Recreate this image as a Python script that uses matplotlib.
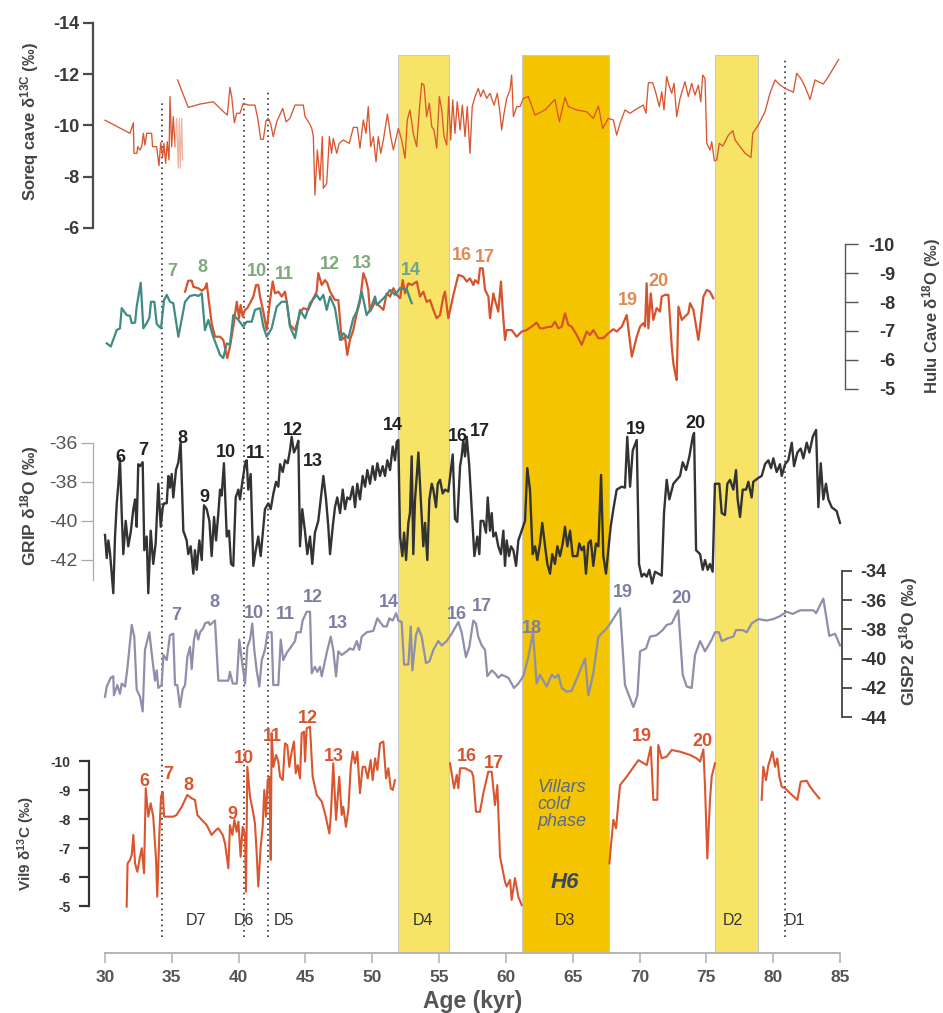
import numpy as np
import matplotlib
matplotlib.use("Agg")
import matplotlib.pyplot as plt
from matplotlib.transforms import blended_transform_factory

plt.rcParams['font.family'] = ['Liberation Sans', 'DejaVu Sans']
plt.rcParams['mathtext.fontset'] = 'custom'
plt.rcParams['mathtext.rm'] = 'Liberation Sans'
plt.rcParams['mathtext.bf'] = 'Liberation Sans:bold'
plt.rcParams['mathtext.default'] = 'regular'

NAN = np.nan

# ---------------- Soreq cave d13C ----------------
soreq_age = [30.0, 31.87, 32.07, 32.12, 32.17, 32.39, 32.45, 32.62, 32.75, 32.87, 32.99, 33.12,
             33.49, 33.56, 33.86, 34.04, 34.17, 34.32, 34.41, 34.54, 34.66, 34.79, 34.86, 34.99,
             35.11, 35.24, NAN,
             35.43, 36.23, 37.11, 38.1, 38.73, 39.15, 39.35, 39.48, 39.68, 39.85, 40.1, 40.35,
             40.72, 41.22, 41.43, 41.65, 41.85, 42.05, 42.22, 42.4, 42.59, 42.85, 43.3, 43.55,
             43.84, 44.22, 44.84, 44.97, 45.29, 45.47, 45.59, 45.71, 45.89, 46.09, 46.26, 46.34,
             46.59, 46.79, 46.96, 47.08, 47.34, 47.53, 47.83, 48.28, 48.58, 48.88, 49.08, 49.33,
             49.53, 49.7, 49.88, 50.08, 50.28, 50.45, 50.63, 50.83, 51.13, 51.38, 51.58, 51.95,
             52.2, 52.45, 52.62, 52.82, 53.07, 53.32, 53.52, 53.7, 53.87, 54.07, 54.27, 54.45,
             54.62, 54.82, 55.02, 55.2, 55.37, 55.57, 55.72, 55.87, 56.02, 56.19, 56.36, 56.57,
             56.74, 56.94, 57.11, 57.31, 57.48, 57.69, 57.93, 58.11, 58.31, 58.56, 58.81, 59.11,
             59.36, 59.56, 59.68, 59.86, 60.06, 60.31, 60.43, 60.56, 60.81, 61.06, 61.3, 61.68,
             62.18, 62.93, 63.67, 64.0, 64.42, 64.67, 65.3, 66.04, 66.54, 66.92, 67.24, 67.66,
             68.04, 68.29, 68.54, 68.91, 69.29, 69.66, 70.28, 70.48, 70.66, 70.98, 71.16, 71.48,
             71.66, 71.83, 72.03, 72.23, 72.41, 72.58, 72.78, 73.03, 73.4, 73.65, 73.9, 74.15,
             74.4, 74.58, 74.73, 74.9, 75.03, 75.27, 75.4, 75.6, 75.78, 75.97, 76.23, 76.65,
             76.98, 77.15, 77.52, 77.9, 78.34, 78.47, 78.89, 79.39, 79.76, 80.14, 80.51, 80.89,
             81.51, 81.76, 82.06, 82.38, 82.76, 83.13, 83.38, 83.75, 84.13, 84.9]
soreq_val = [-10.2, -9.69, -10.01, -10.1, -8.91, -8.91, -9.17, -9.04, -9.17, -9.69, -9.23, -9.69,
             -9.69, -9.17, -9.17, -8.43, -9.32, -8.78, -9.3, -8.52, -9.36, -8.65, -11.12, -9.17,
             -10.34, -9.17, NAN,
             -11.77, -10.7, -10.83, -10.92, -10.6, -10.4, -11.48, -11.12, -10.1, -10.47, -10.47, -10.86,
             -10.79, -10.79, -10.27, -9.46, -9.46, -10.18, -10.27, -10.05, -9.56, -10.14, -10.66, -10.14,
             -10.27, -10.79, -10.79, -10.34, -10.08, -9.88, -9.56, -7.29, -9.04, -7.87, -9.56, -7.55,
             -7.74, -9.56, -8.91, -9.49, -8.91, -9.3, -9.43, -9.3, -9.92, -9.92, -9.11, -10.21,
             -9.69, -10.73, -9.17, -9.56, -8.58, -9.56, -8.91, -9.43, -10.44, -9.56, -9.04, -9.88,
             -9.43, -8.72, -10.21, -10.6, -9.69, -9.17, -10.6, -11.64, -11.57, -10.34, -10.86, -9.95,
             -9.82, -9.11, -11.12, -10.6, -9.56, -9.23, -11.12, -9.43, -10.99, -9.69, -10.92, -9.82,
             -10.79, -9.56, -10.73, -8.91, -10.73, -11.12, -11.44, -11.12, -11.38, -11.05, -11.25, -10.79,
             -11.25, -10.47, -9.82, -10.47, -11.05, -11.38, -11.96, -10.34, -10.73, -10.73, -11.05, -11.12,
             -10.4, -10.6, -11.01, -10.14, -11.09, -10.73, -10.6, -10.53, -10.27, -10.75, -9.88, -10.27,
             -10.21, -9.62, -10.08, -10.6, -10.47, -10.6, -10.79, -10.47, -11.66, -11.66, -11.38, -10.73,
             -11.31, -10.6, -11.9, -11.51, -11.25, -11.64, -10.34, -11.05, -11.7, -11.12, -11.64, -11.18,
             -11.57, -10.92, -11.96, -11.83, -9.3, -9.04, -9.36, -8.62, -8.65, -9.3, -9.19, -9.62,
             -9.79, -9.43, -9.17, -8.91, -8.75, -9.69, -10.01, -10.53, -11.25, -11.77, -11.57, -11.44,
             -11.29, -12.03, -11.83, -11.51, -11.01, -11.77, -11.7, -11.61, -11.9, -12.57]
# lightly drawn duplicate measurements near 35.3-35.8 kyr
soreq_faint_age = [35.24, 35.36, 35.48, 35.56, 35.63, 35.74, 35.81]
soreq_faint_val = [-9.17, -10.27, -8.33, -10.27, -8.33, -10.27, -8.65]

# ---------------- Hulu Cave d18O ----------------
hulu_teal_age = [30.13, 30.43, 30.88, 31.12, 31.25, 31.62, 31.87, 32.0, 32.25, 32.37, 32.67, 32.87,
                 33.12, 33.32, 33.44, 33.69, 33.87, 34.19, 34.42, 34.62, 34.86, 35.11, 35.49, 35.99,
                 36.36, 36.73, 36.98, 37.24, 37.48, 37.73, 38.1, 38.61, 38.85, 39.11, 39.35, 39.6,
                 39.98, 40.35, 40.6, 40.98, 41.22, 41.6, 41.85, 42.1, 42.47, 42.85, 43.22, 43.6,
                 43.84, 44.22, 44.59, 44.97, 45.34, 45.84, 46.09, 46.34, 46.59, 46.84, 47.21, 47.59,
                 47.84, 48.21, 48.58, 48.84, 49.21, 49.58, 49.83, 50.21, 50.33, 50.71, 51.08, 51.33,
                 51.7, 52.08, 52.58, 52.95]
hulu_teal_val = [-6.57, -6.46, -7.03, -7.09, -7.79, -7.55, -7.52, -7.27, -7.29, -7.84, -8.67, -7.09,
                 -7.27, -7.45, -8.01, -8.01, -7.24, -7.09, -8.07, -8.25, -8.01, -7.96, -6.8, -8.01,
                 -8.21, -8.25, -8.21, -8.3, -7.03, -7.38, -6.8, -6.17, -6.06, -6.57, -6.52, -7.55,
                 -7.38, -7.15, -7.32, -7.32, -7.73, -7.79, -7.15, -6.8, -7.09, -7.84, -8.01, -8.01,
                 -7.15, -6.75, -7.73, -7.44, -7.96, -8.25, -8.07, -8.25, -7.73, -8.19, -7.79, -6.69,
                 -6.92, -6.75, -7.44, -7.67, -8.36, -7.55, -7.73, -8.19, -7.9, -8.07, -8.25, -8.42,
                 -8.25, -8.48, -8.44, -7.96]

hulu_orange_age = [35.99, 36.23, 36.49, 36.61, 36.98, 37.24, 37.48, 37.61, 37.73, 37.98, 38.23, 38.61,
                   38.85, 39.15, 39.35, 39.6, 39.86, 40.03, 40.15, 40.3, 40.48, 40.65, 40.85, 41.1,
                   41.3, 41.47, 41.6, 41.85, 42.1, 42.35, 42.55, 42.72, 42.97, 43.22, 43.47, 43.6,
                   43.84, 44.22, 44.59, 44.84, 45.21, 45.59, 45.84, 45.96, 46.22, 46.46, 46.64, 46.84,
                   47.21, 47.46, 47.71, 47.96, 48.13, 48.33, 48.58, 48.84, 49.08, 49.33, 49.53, 49.7,
                   49.83, 50.03, 50.21, 50.58, 50.83, 51.08, 51.33, 51.58, 51.83, 52.08, 52.28, 52.45,
                   52.7, 52.95, 53.33, 53.57, 53.82, 54.07, 54.32, 54.57, 54.82, 55.07, 55.32, 55.44,
                   55.69, 56.07, 56.44, 56.81, 57.07, 57.31, 57.56, 57.69, 57.93, 58.06, 58.26, 58.44,
                   58.69, 58.81, 59.06, 59.18, 59.43, 59.63, 59.76, 59.93, 60.06, 60.43, 60.81, 61.18,
                   61.55, 61.93, 62.3, 62.55, 62.8, 63.05, 63.43, 63.67, 63.92, 64.18, 64.42, 64.67,
                   64.92, 65.3, 65.67, 66.05, 66.29, 66.54, 66.92, 67.29, 67.66, 68.04, 68.29, 68.67,
                   69.04, 69.42, 69.79, 70.04, 70.28, 70.41, 70.53, 70.66, 70.84, 71.03, 71.28, 71.53,
                   71.66, 71.9, 72.16, 72.28, 72.41, 72.53, 72.66, 72.78, 72.91, 73.16, 73.4, 73.65,
                   73.78, 74.03, 74.28, 74.4, 74.53, 74.78, 75.03, 75.27, 75.52]
hulu_orange_val = [-8.36, -8.74, -8.74, -8.53, -8.48, -8.39, -8.48, -8.65, -8.19, -7.27, -6.8, -6.8,
                   -6.69, -6.06, -6.46, -7.15, -8.01, -7.44, -7.9, -7.5, -7.73, -7.79, -7.96, -8.19,
                   -8.59, -8.59, -8.19, -7.67, -7.03, -8.07, -8.71, -8.3, -8.36, -8.19, -8.36, -8.01,
                   -7.21, -7.03, -7.61, -7.79, -7.73, -8.13, -8.36, -9.0, -8.59, -8.76, -8.65, -8.36,
                   -8.07, -8.07, -6.69, -6.8, -6.17, -6.69, -7.03, -7.61, -8.01, -9.0, -8.76, -8.42,
                   -7.67, -7.84, -8.01, -7.84, -7.73, -8.3, -8.19, -8.48, -8.25, -8.13, -8.76, -8.3,
                   -8.65, -8.59, -8.71, -8.19, -8.36, -8.01, -8.07, -7.73, -7.44, -7.55, -8.19, -8.36,
                   -7.44, -8.25, -8.94, -8.88, -8.71, -8.82, -8.59, -8.76, -8.65, -9.17, -9.17, -8.42,
                   -8.19, -7.44, -8.3, -8.07, -7.67, -8.71, -7.73, -6.69, -7.03, -7.03, -6.8, -6.98,
                   -7.03, -7.15, -7.29, -7.09, -7.09, -7.13, -7.15, -7.32, -7.09, -7.15, -7.61, -7.21,
                   -7.15, -6.86, -6.52, -6.98, -6.86, -7.03, -6.75, -6.75, -6.92, -7.06, -6.98, -7.15,
                   -7.55, -6.11, -6.8, -7.15, -7.27, -7.15, -8.65, -7.09, -8.3, -7.38, -7.79, -7.67,
                   -8.19, -8.25, -8.25, -7.38, -6.46, -5.88, -5.54, -5.3, -7.84, -7.38, -7.5, -7.61,
                   -7.96, -7.73, -7.03, -6.69, -7.15, -8.19, -8.42, -8.36, -8.13]

# ---------------- GRIP d18O ----------------
grip_age = [30.0, 30.13, 30.25, 30.37, 30.62, 30.75, 30.88, 31.0, 31.12, 31.25, 31.37, 31.55,
            31.74, 31.92, 32.12, 32.25, 32.37, 32.49, 32.62, 32.82, 32.94, 33.12, 33.24, 33.42,
            33.61, 33.79, 33.99, 34.17, 34.32, 34.42, 34.62, 34.74, 34.86, 34.99, 35.11, 35.31,
            35.49, 35.66, 35.86, 36.11, 36.23, 36.41, 36.61, 36.73, 36.86, 37.06, 37.24, 37.41,
            37.61, 37.81, 37.98, 38.16, 38.31, 38.48, 38.61, 38.73, 38.9, 39.11, 39.28, 39.43,
            39.6, 39.78, 39.98, 40.1, 40.3, 40.48, 40.6, 40.72, 40.9, 41.1, 41.28, 41.47,
            41.65, 41.85, 41.97, 42.22, 42.4, 42.6, 42.8, 42.97, 43.1, 43.3, 43.47, 43.67,
            43.84, 43.97, 44.14, 44.34, 44.47, 44.59, 44.76, 44.96, 45.14, 45.34, 45.51, 45.71,
            45.96, 46.14, 46.34, 46.54, 46.71, 46.84, 47.04, 47.21, 47.38, 47.59, 47.79, 47.96,
            48.13, 48.33, 48.54, 48.71, 48.88, 49.08, 49.28, 49.46, 49.63, 49.83, 50.03, 50.21,
            50.38, 50.58, 50.78, 50.95, 51.13, 51.33, 51.53, 51.7, 51.83, 51.95, 52.08, 52.25,
            52.38, 52.53, 52.7, 52.82, 52.95, 53.07, 53.2, 53.33, 53.45, 53.63, 53.82, 53.95,
            54.12, 54.27, 54.45, 54.57, 54.77, 54.9, 55.07, 55.27, 55.44, 55.69, 56.02, 56.19,
            56.36, 56.57, 56.69, 56.81, 56.94, 57.07, 57.26, 57.64, 57.86, 58.01, 58.11, 58.31,
            58.51, 58.64, 58.81, 58.94, 59.06, 59.24, 59.43, 59.63, 59.81, 59.93, 60.06, 60.23,
            60.38, 60.56, 60.76, 60.93, 61.18, 61.43, 61.6, 61.8, 62.0, 62.18, 62.35, 62.55,
            62.72, 62.93, 63.1, 63.3, 63.47, 63.67, 63.85, 64.05, 64.25, 64.42, 64.6, 64.8,
            65.0, 65.17, 65.34, 65.49, 65.67, 65.84, 65.99, 66.17, 66.35, 66.54, 66.74, 66.92,
            67.12, 67.29, 67.49, 67.66, 67.84, 68.04, 68.29, 68.67, 68.91, 69.08, 69.29, 69.49,
            69.79, 69.96, 70.16, 70.34, 70.54, 70.73, 70.94, 71.16, 71.41, 71.66, 71.83, 72.03,
            72.23, 72.53, 72.78, 73.03, 73.23, 73.48, 73.73, 73.98, 74.08, 74.23, 74.53, 74.73,
            74.9, 75.1, 75.27, 75.47, 75.64, 75.97, 76.15, 76.39, 76.57, 76.77, 77.02, 77.22,
            77.34, 77.52, 77.72, 77.97, 78.14, 78.39, 78.51, 78.89, 79.14, 79.39, 79.64, 79.84,
            80.01, 80.26, 80.51, 80.64, 80.89, 81.13, 81.39, 81.56, 81.81, 82.06, 82.26, 82.51,
            82.71, 82.96, 83.21, 83.38, 83.56, 83.75, 83.95, 84.13, 84.38, 84.75, 85.0]
grip_val = [-40.72, -41.9, -41.0, -41.6, -43.7, -40.8, -39.1, -38.1, -36.8, -39.6, -41.7, -40.0,
            -41.3, -40.6, -39.4, -38.9, -40.3, -37.1, -37.2, -37.0, -41.5, -40.8, -43.7, -40.5,
            -42.2, -41.15, -38.1, -40.3, -39.3, -39.1, -39.1, -37.7, -38.3, -37.6, -38.8, -37.4,
            -37.0, -36.0, -40.5, -41.0, -41.7, -41.3, -42.7, -41.5, -42.5, -41.0, -42.0, -39.2,
            -39.4, -40.0, -41.8, -39.8, -41.0, -39.6, -38.4, -38.7, -37.05, -40.8, -40.5, -42.2,
            -42.3, -38.8, -38.4, -38.9, -37.9, -37.1, -36.9, -38.4, -37.6, -42.3, -41.5, -40.8,
            -41.8, -40.3, -39.4, -39.1, -39.4, -38.6, -38.0, -38.25, -37.1, -37.5, -36.9, -37.05,
            -36.4, -35.7, -36.5, -36.2, -35.9, -41.3, -39.4, -40.5, -41.7, -40.8, -42.2, -40.6,
            -40.0, -38.9, -37.7, -38.9, -40.3, -41.7, -40.3, -39.3, -38.8, -39.6, -38.4, -39.4,
            -38.8, -38.9, -38.25, -39.3, -38.1, -38.9, -37.7, -38.25, -37.4, -38.1, -37.2, -37.9,
            -37.05, -37.7, -37.2, -37.7, -36.9, -37.4, -36.2, -36.9, -35.95, -35.86, -40.8, -41.8,
            -40.6, -42.0, -40.1, -39.6, -36.7, -41.7, -38.9, -37.7, -36.5, -38.9, -41.3, -40.1,
            -42.0, -38.9, -38.1, -38.4, -39.3, -38.1, -37.9, -38.6, -38.4, -38.5, -36.6, -39.9,
            -40.05, -37.2, -36.7, -35.86, -36.7, -35.7, -37.2, -41.8, -40.8, -41.7, -40.0, -40.0,
            -40.6, -38.8, -40.5, -39.6, -40.8, -40.6, -41.3, -41.7, -40.5, -42.3, -41.0, -41.8,
            -41.3, -41.5, -42.3, -41.0, -40.5, -40.0, -37.3, -38.4, -41.7, -41.3, -42.0, -41.15,
            -40.1, -41.3, -42.2, -42.7, -41.7, -42.2, -41.3, -41.8, -41.15, -40.3, -41.3, -40.5,
            -41.8, -41.8, -41.8, -41.15, -41.5, -41.3, -42.7, -41.15, -41.0, -42.3, -41.15, -41.3,
            -37.65, -41.8, -42.7, -41.5, -40.3, -39.4, -38.4, -38.25, -38.3, -35.7, -38.25, -36.4,
            -35.86, -42.2, -42.85, -42.7, -42.85, -42.5, -43.2, -42.6, -42.7, -42.8, -39.6, -37.9,
            -38.9, -38.1, -37.9, -37.7, -37.0, -37.4, -36.7, -35.7, -35.5, -41.5, -41.7, -42.5,
            -42.0, -42.5, -42.2, -42.6, -38.1, -38.1, -39.6, -39.7, -38.1, -37.9, -38.4, -37.4,
            -38.9, -39.8, -38.4, -38.4, -38.0, -38.8, -38.0, -37.8, -37.7, -37.1, -36.9, -37.3,
            -36.8, -37.5, -37.1, -37.7, -37.1, -36.9, -36.0, -37.2, -36.5, -36.3, -36.8, -36.0,
            -36.5, -35.7, -35.35, -39.3, -37.05, -38.9, -38.1, -38.9, -39.3, -39.5, -40.1]

# ---------------- GISP2 d18O ----------------
gisp2_age = [30.0, 30.13, 30.43, 30.62, 30.67, 30.92, 31.12, 31.25, 31.5, 31.67, 32.0, 32.19,
             32.37, 32.62, 32.82, 32.99, 33.32, 33.49, 33.74, 33.87, 33.99, 34.24, 34.37, 34.62,
             34.86, 35.11, 35.24, 35.41, 35.61, 35.81, 35.99, 36.16, 36.36, 36.49, 36.66, 36.81,
             36.98, 37.11, 37.36, 37.48, 37.73, 37.86, 38.23, 38.48, 38.85, 39.23, 39.35, 39.56,
             39.86, 40.05, 40.3, 40.48, 40.65, 40.85, 41.02, 41.17, 41.35, 41.55, 41.73, 41.97,
             42.17, 42.47, 42.59, 42.97, 43.15, 43.34, 43.6, 43.84, 44.22, 44.34, 44.64, 44.79,
             45.09, 45.34, 45.47, 45.71, 45.89, 46.09, 46.22, 46.59, 46.89, 47.08, 47.29, 47.46,
             47.71, 48.09, 48.33, 48.58, 48.84, 49.03, 49.21, 49.58, 50.08, 50.38, 50.58, 50.83,
             51.08, 51.28, 51.53, 51.78, 51.95, 52.2, 52.38, 52.7, 52.88, 53.0, 53.27, 53.45,
             53.7, 54.02, 54.27, 54.57, 54.94, 55.2, 55.57, 55.94, 56.44, 56.69, 57.01, 57.26,
             57.56, 57.76, 57.93, 58.19, 58.44, 58.61, 58.94, 59.19, 59.43, 59.69, 60.18, 60.61,
             60.93, 61.3, 61.68, 62.03, 62.3, 62.55, 63.05, 63.43, 63.67, 63.92, 64.18, 64.55,
             64.92, 65.42, 65.92, 66.17, 66.54, 66.92, 67.42, 67.74, 68.54, 68.91, 69.54, 69.84,
             70.04, 70.49, 70.78, 71.28, 71.73, 72.03, 72.41, 72.9, 73.23, 73.53, 73.9, 74.15,
             74.53, 74.9, 75.4, 75.64, 75.94, 76.15, 76.64, 77.02, 77.22, 77.72, 78.02, 78.39,
             78.89, 79.52, 80.01, 80.51, 81.01, 81.46, 82.01, 82.51, 83.01, 83.21, 83.75, 84.2,
             84.63, 85.0]
gisp2_val = [-42.6, -41.9, -41.3, -41.2, -42.5, -41.8, -42.4, -41.7, -41.9, -40.7, -37.7, -38.5,
             -42.1, -42.6, -43.6, -39.4, -38.2, -39.6, -41.5, -40.8, -42.0, -41.8, -39.75, -40.1,
             -38.4, -38.3, -41.8, -41.8, -43.3, -42.1, -41.8, -39.9, -39.2, -40.7, -38.7, -38.05,
             -38.7, -38.2, -37.9, -37.6, -37.5, -37.7, -37.4, -41.5, -41.5, -41.5, -40.9, -41.7,
             -41.7, -38.7, -40.55, -41.7, -39.2, -38.7, -37.6, -39.4, -40.8, -41.9, -40.1, -39.4,
             -38.2, -38.2, -41.8, -41.8, -38.7, -40.1, -39.6, -39.3, -38.8, -38.2, -38.2, -37.4,
             -36.8, -36.8, -41.0, -40.55, -40.9, -40.55, -41.2, -39.6, -38.5, -39.4, -41.2, -39.5,
             -39.75, -39.5, -39.3, -39.4, -38.8, -39.4, -38.5, -38.2, -38.1, -37.25, -37.5, -37.8,
             -37.8, -37.25, -37.4, -36.9, -37.4, -37.5, -40.4, -40.4, -37.8, -40.8, -38.4, -37.9,
             -38.5, -40.3, -40.2, -39.4, -38.8, -39.1, -38.8, -38.3, -37.5, -38.2, -39.9, -39.2,
             -37.4, -37.6, -38.5, -39.1, -39.4, -41.2, -40.8, -41.0, -41.3, -41.1, -41.3, -42.0,
             -41.7, -41.2, -39.9, -38.2, -41.7, -41.1, -41.9, -41.1, -41.3, -41.1, -42.0, -42.25,
             -42.2, -41.1, -40.0, -42.5, -41.0, -38.5, -38.05, -37.7, -36.56, -41.8, -43.3, -42.5,
             -39.5, -39.3, -38.5, -38.4, -38.05, -37.7, -37.6, -36.7, -41.1, -41.9, -42.0, -39.75,
             -38.8, -39.5, -38.7, -38.2, -38.2, -38.8, -38.6, -38.5, -38.05, -38.05, -38.2, -37.6,
             -37.3, -37.4, -37.3, -37.1, -36.8, -36.95, -36.7, -36.7, -36.7, -36.9, -35.9, -38.45,
             -38.3, -39.1]

# ---------------- Vil9 d13C (gaps where no speleothem growth) ----------------
vil9_age = [31.62, 31.69, 31.87, 32.0, 32.12, 32.25, 32.42, 32.62, 32.75, 32.92, 33.05, 33.24,
            33.42, 33.61, 33.82, 33.91, 34.06, 34.19, 34.32, 34.42, 34.62, 35.11, 35.36, 35.74,
            36.16, 36.49, 36.73, 36.91, 37.24, 37.61, 37.98, 38.31, 38.48, 38.81, 38.98, 39.23,
            39.35, 39.53, 39.68, 39.85, 39.98, 40.15, 40.3, 40.48, 40.55, 40.65, 40.85, 41.05,
            41.22, 41.35, 41.47, 41.65, 41.8, 41.92, 42.05, 42.17, 42.3, 42.4, 42.47, 42.6,
            42.8, 42.97, 43.1, 43.3, 43.47, 43.64, 43.79, 43.97, 44.14, 44.27, 44.42, 44.59,
            44.72, 44.89, 44.97, 45.09, 45.34, 45.54, 45.84, 46.22, 46.46, 46.79, 46.91, 47.08,
            47.29, 47.53, 47.71, 47.83, 48.03, 48.21, 48.39, 48.54, 48.71, 48.88, 49.08, 49.28,
            49.46, 49.66, 49.88, 50.03, 50.21, 50.38, 50.58, 50.83, 51.03, 51.2, 51.38, 51.53,
            51.7, NAN,
            55.82, 56.12, 56.32, 56.44, 56.57, 56.94, 57.44, 57.56, 57.76, 58.06, 58.31, 58.68,
            58.94, 59.18, 59.36, 59.56, 59.93, 60.06, 60.31, 60.43, 60.68, 60.93, 61.18, NAN,
            67.74, 68.04, 68.24, 68.54, 69.04, 69.91, 70.54, 70.84, 71.03, 71.33, 71.4, 71.66,
            72.03, 72.41, 73.03, 73.78, 74.28, 74.53, 74.78, 74.9, 75.07, 75.27, 75.4, 75.64, NAN,
            79.14, 79.26, 79.46, 79.64, 79.76, 79.94, 80.14, 80.31, 80.46, 80.64, 80.89, 81.26,
            81.81, 82.06, 82.51, 82.76, 83.13, 83.45]
vil9_val = [-4.98, -6.47, -6.59, -6.76, -7.45, -6.47, -6.18, -6.7, -6.99, -6.13, -9.06, -8.08,
            -8.54, -8.08, -6.59, -5.32, -7.39, -8.77, -8.94, -8.08, -8.08, -8.08, -8.14, -8.42,
            -8.83, -8.71, -8.66, -8.14, -7.97, -7.79, -7.45, -7.62, -7.68, -7.45, -7.16, -6.3,
            -7.79, -7.45, -7.97, -7.56, -7.91, -6.7, -7.73, -7.45, -5.49, -9.8, -8.77, -8.31,
            -7.85, -6.82, -5.67, -7.04, -7.73, -9.0, -8.08, -9.34, -9.46, -6.59, -10.96, -9.8,
            -10.21, -9.98, -9.46, -9.34, -10.61, -10.55, -9.8, -10.32, -10.67, -9.58, -9.86, -9.4,
            -10.96, -11.01, -9.98, -11.13, -11.18, -9.46, -8.83, -8.6, -8.2, -7.5, -8.2, -9.92,
            -7.97, -9.46, -8.14, -8.42, -7.73, -8.31, -9.8, -10.32, -9.92, -10.32, -8.89, -9.8,
            -9.8, -9.4, -10.03, -9.34, -10.09, -9.69, -10.61, -10.67, -9.4, -9.75, -9.06, -9.0,
            -9.34, NAN,
            -9.92, -9.06, -9.52, -9.06, -9.75, -9.75, -9.63, -9.46, -8.25, -8.25, -8.89, -9.63,
            -9.63, -8.48, -9.17, -6.7, -5.84, -5.67, -5.9, -5.21, -5.96, -5.32, -5.03, NAN,
            -6.47, -7.97, -7.68, -9.17, -9.46, -10.03, -9.86, -10.49, -8.66, -8.66, -10.55, -10.09,
            -10.15, -10.38, -10.32, -10.21, -10.09, -9.98, -10.4, -9.11, -6.64, -8.66, -9.46, -9.92, NAN,
            -8.66, -9.8, -9.34, -9.86, -10.03, -10.32, -9.8, -10.09, -9.46, -9.11, -9.06, -8.89,
            -8.66, -9.29, -9.32, -9.11, -8.89, -8.71]

# ---------------- interstadial numbers ----------------
hulu_green_labels = ["7", "8", "10", "11", "12", "13"]
hulu_green_age = [35.0, 37.3, 41.4, 43.4, 46.8, 49.2]
hulu_green_val = [-9.05, -9.2, -9.05, -8.95, -9.3, -9.35]
hulu_orange_labels = ["16", "17", "19", "20"]
hulu_orange_lab_age = [56.7, 58.4, 69.1, 71.4]
hulu_orange_lab_val = [-9.6, -9.55, -8.05, -8.7]

grip_labels = ["6", "7", "8", "9", "10", "11", "12", "13", "14", "16", "17", "19", "20"]
grip_lab_age = [31.12, 32.84, 35.76, 37.41, 39.05, 41.22, 44.07, 45.56, 51.55, 56.41, 58.06, 69.73, 74.15]
grip_lab_val = [-36.78, -36.42, -35.81, -38.78, -36.48, -36.53, -35.4, -36.94, -35.1, -35.66, -35.45, -35.3, -35.04]

gisp2_labels = ["7", "8", "10", "11", "12", "13", "14", "16", "17", "18", "19", "20"]
gisp2_lab_age = [35.31, 38.16, 41.15, 43.47, 45.56, 47.43, 51.25, 56.34, 58.21, 61.95, 68.76, 73.17]
gisp2_lab_val = [-37.09, -36.2, -36.95, -37.02, -35.86, -37.57, -36.14, -37.02, -36.41, -37.91, -35.52, -35.93]

vil9_labels = ["6", "7", "8", "9", "10", "11", "12", "13", "16", "17", "19", "20"]
vil9_lab_age = [32.92, 34.71, 36.21, 39.5, 40.4, 42.5, 45.19, 47.14, 57.09, 59.11, 70.18, 74.67]
vil9_lab_val = [-9.31, -9.55, -9.17, -8.17, -10.07, -10.86, -11.48, -10.14, -10.14, -9.93, -10.83, -10.66]

# dry phases and dotted boundaries
band_start = [51.9, 61.2, 75.65]
band_end = [55.75, 67.7, 78.9]
band_names = ["D4", "D3", "D2"]
dotted_ages = [34.3, 40.4, 42.2, 80.9]
dlabel_names = ["D7", "D6", "D5", "D4", "D3", "D2", "D1"]
dlabel_ages = [36.8, 40.4, 43.4, 53.8, 64.4, 77.0, 81.6]

# ---------------- figure ----------------
W, H = 943, 1013
fig = plt.figure(figsize=(W / 100, H / 100), dpi=100)
X0, X1 = 105, 840
AXW = X1 - X0


def rect(top, bottom):
    return [X0 / W, 1 - bottom / H, AXW / W, (bottom - top) / H]


YELLOW = "#f7e366"
GOLD = "#f5c400"
RED = "#d9562f"

base = fig.add_axes(rect(55, 953))
base.set_xlim(30, 85)
base.set_ylim(0, 1)
base.patch.set_visible(False)
for s in ["top", "left", "right"]:
    base.spines[s].set_visible(False)
base.spines["bottom"].set_color("#b5b5b5")
base.spines["bottom"].set_linewidth(1.4)
base.set_yticks([])
base.set_xticks(np.arange(30, 86, 5))
base.tick_params(axis="x", length=7, width=1.2, color="#b5b5b5", pad=5,
                 labelsize=12.5, labelcolor="#555555")
for lab in base.get_xticklabels():
    lab.set_fontweight("bold")
base.set_xlabel("Age (kyr)", fontsize=16.5, fontweight="bold", color="#555555", labelpad=4)

for a0, a1, name in zip(band_start, band_end, band_names):
    base.axvspan(a0, a1, ymin=0, ymax=1, facecolor=GOLD if name == "D3" else YELLOW,
                 edgecolor="#c9c9c9", linewidth=0.8, zorder=0)

dotted_tops = [100, 96, 89, 60]
for age, top in zip(dotted_ages, dotted_tops):
    base.axvline(age, ymin=(953 - 937) / 898, ymax=(953 - top) / 898, color="#333333",
                 linestyle=(0, (1, 2.2)), linewidth=1.2, zorder=1)

trans_b = blended_transform_factory(base.transData, base.transAxes)
for name, age in zip(dlabel_names, dlabel_ages):
    base.text(age, (953 - 920) / 898, name, transform=trans_b, ha="center", va="center",
              fontsize=11.5, color="#333333")

base.text(62.33, (953 - 804) / 898, "Villars\ncold\nphase", transform=trans_b, ha="left",
          va="center", fontsize=13, fontstyle="italic", color="#5a6a8e", linespacing=1.0)
base.text(64.42, (953 - 882) / 898, "H6", transform=trans_b, ha="center", va="center",
          fontsize=16, fontstyle="italic", fontweight="bold", color="#3b4663")


def panel(top_px, v_top, bot_px, v_bot):
    ax = fig.add_axes(rect(top_px, bot_px))
    ax.set_xlim(30, 85)
    ax.set_ylim(v_bot, v_top)
    ax.patch.set_visible(False)
    for s in ax.spines.values():
        s.set_visible(False)
    ax.set_xticks([])
    return ax


def left_axis(ax, offset_px, lo, hi, ticks, color, lw, tick_len, pad, size, weight, lcolor):
    sp = ax.spines["left"]
    sp.set_visible(True)
    sp.set_position(("axes", -offset_px / AXW))
    sp.set_bounds(lo, hi)
    sp.set_color(color)
    sp.set_linewidth(lw)
    ax.set_yticks(ticks)
    ax.set_yticklabels([f"{t:d}" for t in ticks])
    ax.tick_params(axis="y", direction="out", length=tick_len, width=lw, color=color,
                   pad=pad, labelsize=size, labelcolor=lcolor)
    for lab in ax.get_yticklabels():
        lab.set_fontweight(weight)


def right_axis(ax, offset_px, lo, hi, ticks, color, lw, tick_len, pad, size, right_align):
    ax.yaxis.tick_right()
    sp = ax.spines["right"]
    sp.set_visible(True)
    sp.set_position(("axes", 1 + offset_px / AXW))
    sp.set_bounds(lo, hi)
    sp.set_color(color)
    sp.set_linewidth(lw)
    ax.set_yticks(ticks)
    ax.set_yticklabels([f"{t:d}" for t in ticks])
    ax.tick_params(axis="y", direction="out", length=tick_len, width=lw, color=color,
                   pad=pad, labelsize=size, labelcolor="#333333")
    for t in ax.yaxis.get_major_ticks():
        t.label2.set_fontweight("bold")
        if right_align:
            t.label2.set_horizontalalignment("right")


def numbers(ax, labels, ages, vals, color, size=13):
    for s, a, v in zip(labels, ages, vals):
        ax.text(a, v, s, ha="center", va="center", fontsize=size, fontweight="bold",
                color=color, clip_on=False)


# Soreq
ax1 = panel(22.7, -14, 228, -6)
ax1.plot(soreq_age, soreq_val, color=RED, lw=0.95, clip_on=False)
ax1.plot(soreq_faint_age, soreq_faint_val, color="#f2b3a3", lw=0.9, clip_on=False)
left_axis(ax1, 12, -14, -6, [-14, -12, -10, -8, -6], "#4a4a4a", 1.6, 7, 3, 13, "bold", "#3a3a3a")
fig.text(30 / W, 1 - 122 / H, r"Soreq cave $\delta^{13C}$ (‰)", rotation=90, ha="center",
         va="center", fontsize=12, fontweight="bold", color="#444444")

# Hulu
ax2 = panel(244.3, -10, 388.7, -5)
ax2.plot(hulu_orange_age, hulu_orange_val, color="#d6542d", lw=1.6, clip_on=False)
ax2.plot(hulu_teal_age, hulu_teal_val, color="#3f8b86", lw=1.6, clip_on=False)
right_axis(ax2, 5, -10, -5, [-10, -9, -8, -7, -6, -5], "#555555", 1.0, 9, 27, 13, True)
numbers(ax2, hulu_green_labels, hulu_green_age, hulu_green_val, "#7fa87d")
ax2.text(52.9, -9.11, "14", ha="center", va="center", fontsize=13, fontweight="bold",
         color="#6aa596", clip_on=False)
numbers(ax2, hulu_orange_labels, hulu_orange_lab_age, hulu_orange_lab_val, "#e08a50")
fig.text(932 / W, 1 - 316 / H, r"Hulu Cave $\delta^{18}$O (‰)", rotation=90, ha="center",
         va="center", fontsize=12, fontweight="bold", color="#444444")

# GRIP
ax3 = panel(442.7, -36, 560, -42)
ax3.plot(grip_age, grip_val, color="#333333", lw=1.7, clip_on=False)
left_axis(ax3, 12, -43, -36, [-36, -38, -40, -42], "#aaaaaa", 0.9, 9, 2, 14, "normal", "#555555")
numbers(ax3, grip_labels, grip_lab_age, grip_lab_val, "#222222")
fig.text(30 / W, 1 - 506 / H, r"GRIP $\delta^{18}$O (‰)", rotation=90, ha="center",
         va="center", fontsize=12.5, fontweight="bold", color="#444444")

# GISP2
ax4 = panel(570.7, -34, 717.3, -44)
ax4.plot(gisp2_age, gisp2_val, color="#8f8fab", lw=1.6, clip_on=False)
right_axis(ax4, 2, -44, -34, [-34, -36, -38, -40, -42, -44], "#444444", 1.3, 7, 6, 13, False)
numbers(ax4, gisp2_labels, gisp2_lab_age, gisp2_lab_val, "#7c80a0")
fig.text(909 / W, 1 - 641 / H, r"GISP2 $\delta^{18}$O (‰)", rotation=90, ha="center",
         va="center", fontsize=12.5, fontweight="bold", color="#444444")

# Vil9
ax5 = panel(761, -10, 906, -5)
ax5.plot(vil9_age, vil9_val, color=RED, lw=1.5, clip_on=False)
left_axis(ax5, 16, -10, -5, [-10, -9, -8, -7, -6, -5], "#333333", 1.6, 7, 6, 10, "bold", "#333333")
numbers(ax5, vil9_labels, vil9_lab_age, vil9_lab_val, "#d9552f")
fig.text(26 / W, 1 - 844 / H, r"Vil9 $\delta^{13}$C (‰)", rotation=90, ha="center",
         va="center", fontsize=11, fontweight="bold", color="#444444")

fig.savefig("out.png", dpi=100, facecolor="white")
